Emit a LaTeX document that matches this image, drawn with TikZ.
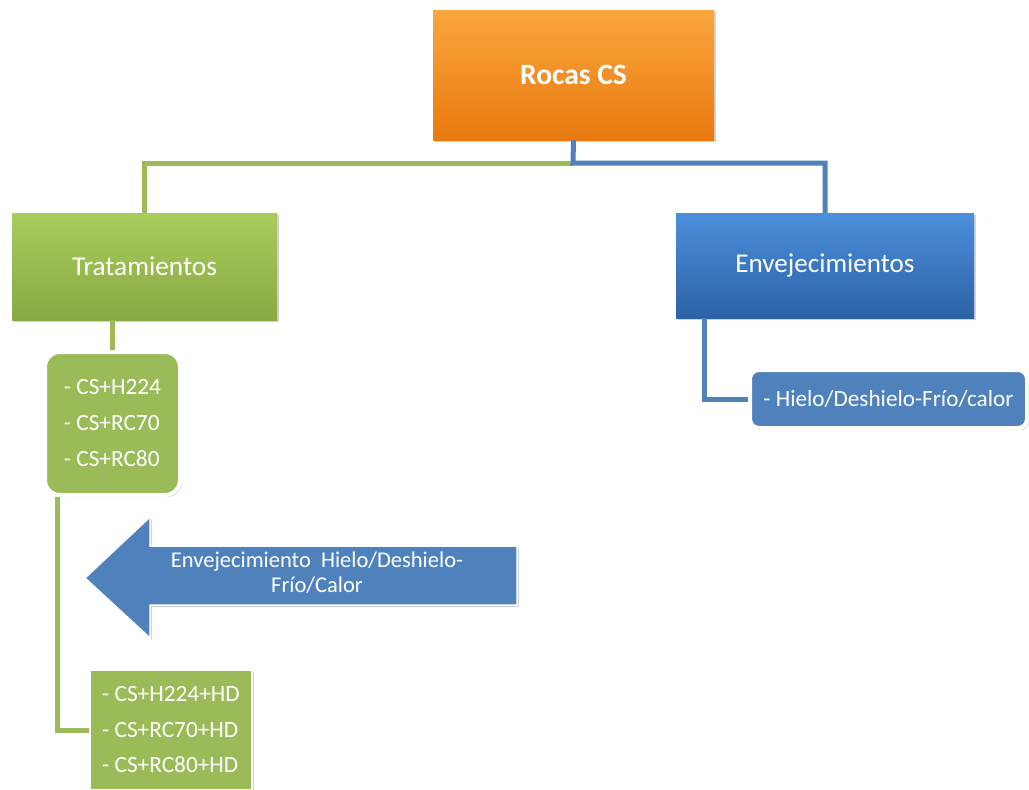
\documentclass[tikz,border=0pt]{standalone}
\usepackage{fontspec}
\setmainfont{Carlito}
\usetikzlibrary{shadows,calc}

\definecolor{orTop}{HTML}{FBA63E}
\definecolor{orBot}{HTML}{E8790F}
\definecolor{grTop}{HTML}{AACC5C}
\definecolor{grBot}{HTML}{88A943}
\definecolor{blTop}{HTML}{4B8FDC}
\definecolor{blBot}{HTML}{2D62A6}
\definecolor{grFlat}{HTML}{9BBB59}
\definecolor{blFlat}{HTML}{4F81BD}

\tikzset{
  softshadow/.style={drop shadow={opacity=0.35, shadow xshift=2pt, shadow yshift=-2pt}},
  mainbox/.style={rectangle, softshadow, draw=none, text=white, align=center, inner sep=0pt},
  listbox/.style={rectangle, softshadow, draw=white, text=white, align=left, inner sep=0pt},
  gline/.style={draw=grFlat, line width=5pt},
  bline/.style={draw=blFlat, line width=5pt},
}

\begin{document}
\begin{tikzpicture}[x=1pt,y=-1pt]
  \clip (0,0) rectangle (1029,790);
  \fill[white] (0,0) rectangle (1029,790);

  % top level
  \node[mainbox, top color=orTop, bottom color=orBot,
        minimum width=281pt, minimum height=130pt,
        font=\fontsize{29.5}{34}\selectfont\bfseries] (root) at (573.5,75) {Rocas CS};

  % second level
  \node[mainbox, top color=grTop, bottom color=grBot,
        minimum width=265pt, minimum height=107pt,
        font=\fontsize{27.3}{32}\selectfont] (trat) at (144.5,266.5) {Tratamientos};
  \node[mainbox, top color=blTop, bottom color=blBot,
        minimum width=298pt, minimum height=105pt,
        font=\fontsize{27.1}{32}\selectfont] (env) at (825,265.5) {Envejecimientos};

  % leaves
  \node[listbox, fill=grFlat, line width=4pt, rounded corners=15pt,
        minimum width=135pt, minimum height=143pt,
        font=\fontsize{23.3}{36}\selectfont] (list1) at (112.5,423.5)
        {- CS+H224\\- CS+RC70\\- CS+RC80};
  \node[listbox, fill=grFlat, line width=2pt,
        minimum width=162pt, minimum height=120pt,
        font=\fontsize{23.3}{35.5}\selectfont] (list2) at (171,730)
        {- CS+H224+HD\\- CS+RC70+HD\\- CS+RC80+HD};
  \node[listbox, fill=blFlat, line width=4pt, rounded corners=9pt,
        minimum width=277pt, minimum height=58pt,
        font=\fontsize{23.2}{28}\selectfont] (list3) at (888.5,399)
        {- Hielo/Deshielo-Frío/calor};

  % connectors
  \coordinate (j) at (573,163);
  \draw[gline] (j) -| (trat.north);
  \draw[bline] (root.south) -- (j) -| (env.north);
  \draw[gline] (list1.north) -- (list1.north |- trat.south);
  \draw[gline] ([xshift=14pt]list1.south west) |- (list2.west);
  \draw[bline] ([xshift=29pt]env.south west) |- (list3.west);

  % ageing step arrow
  \draw[fill=blFlat, draw=white, line width=1.5pt, softshadow]
    (85,578) -- (150,517) -- (150,546) -- (517,546) -- (517,605)
    -- (150,605) -- (150,638) -- cycle;
  \node[text=white, align=center, font=\fontsize{22.5}{25}\selectfont] (arrowtxt) at (317,573)
    {Envejecimiento\ \ Hielo/Deshielo-\\Frío/Calor};
\end{tikzpicture}
\end{document}
